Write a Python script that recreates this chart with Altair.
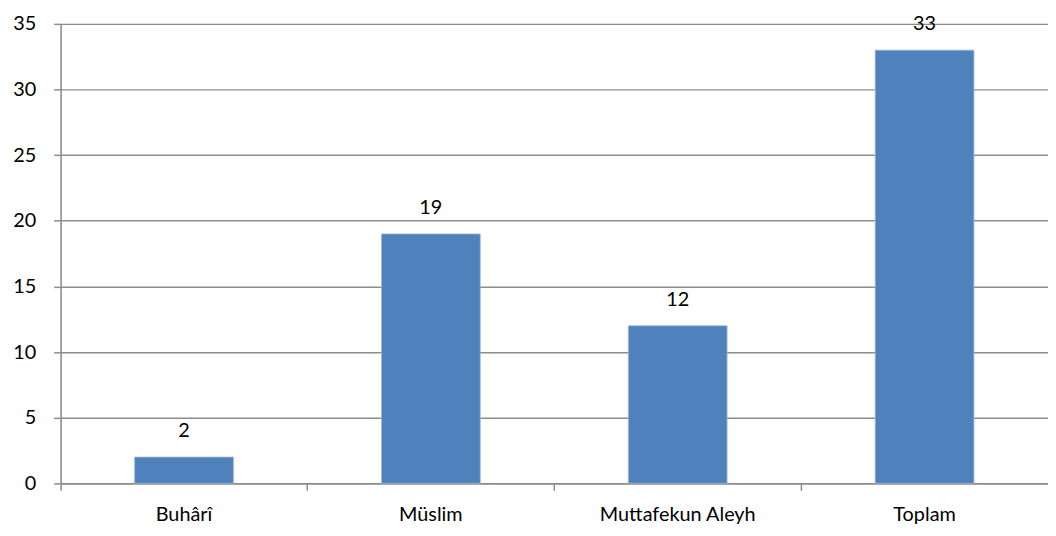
import altair as alt
import pandas as pd

categories = ["Buhârî", "Müslim", "Muttafekun Aleyh", "Toplam"]
values = [2, 19, 12, 33]

df = pd.DataFrame({"cat": categories, "val": values})

FONT = "Lato"
GRID = "#8c8c8c"

base = alt.Chart(df).encode(
    x=alt.X(
        "cat:N",
        sort=categories,
        title=None,
        scale=alt.Scale(paddingInner=0.6, paddingOuter=0.3),
        axis=alt.Axis(
            labelAngle=0,
            labelFont=FONT,
            labelFontSize=20,
            labelColor="#000000",
            labelPadding=14,
            tickSize=7,
            tickColor=GRID,
            domainColor=GRID,
            tickWidth=1.5,
            domainWidth=1.5,
            bandPosition=-0.75,
            grid=False,
        ),
    ),
    y=alt.Y(
        "val:Q",
        title=None,
        scale=alt.Scale(domain=[0, 35], nice=False),
        axis=alt.Axis(
            values=[0, 5, 10, 15, 20, 25, 30, 35],
            labelFont=FONT,
            labelFontSize=20,
            labelColor="#000000",
            labelPadding=18,
            tickSize=7,
            tickColor=GRID,
            domainColor=GRID,
            gridColor=GRID,
            tickWidth=1.5,
            domainWidth=1.5,
            gridWidth=1.5,
            grid=True,
        ),
    ),
)

bars = base.mark_bar(color="#4F81BD", stroke="#9db8d9", strokeWidth=0.8)
labels = base.mark_text(
    font=FONT, fontSize=20, color="#000000", dy=-20, baseline="alphabetic"
).encode(text="val:Q")

chart = (
    alt.layer(bars, labels)
    .properties(
        width=995,
        height=463,
        padding={"left": 53, "top": 14, "right": 0, "bottom": 43},
        autosize=alt.AutoSizeParams(type="none"),
    )
    .configure_view(stroke=None)
    .configure(background="white")
)

chart.save("out.html", embed_options={"renderer": "svg", "actions": False})
